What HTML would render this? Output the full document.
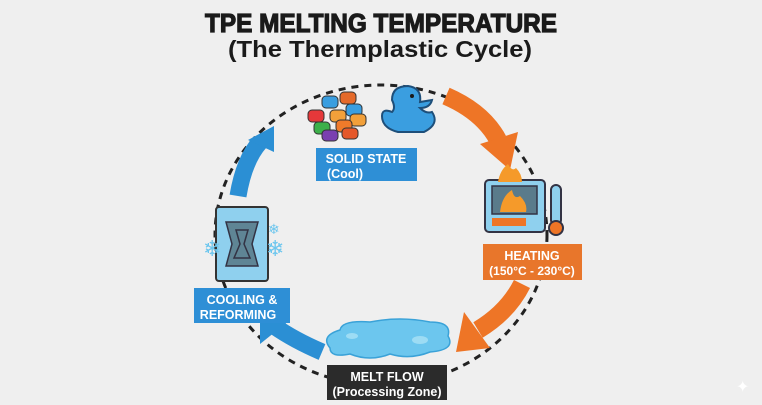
<!DOCTYPE html>
<html><head><style>
body{margin:0;width:762px;height:400px;background:#efefef;overflow:hidden;font-family:"Liberation Sans","DejaVu Sans",sans-serif}
</style></head><body>
<svg width="762" height="400" viewBox="0 0 762 400" xmlns="http://www.w3.org/2000/svg">
<rect width="762" height="400" fill="#efefef"/>
<text x="381" y="32" text-anchor="middle" font-family="Liberation Sans, sans-serif" font-weight="900" font-size="26" textLength="352" lengthAdjust="spacingAndGlyphs" fill="#1a1a1a" stroke="#1a1a1a" stroke-width="1.2">TPE MELTING TEMPERATURE</text>
<text x="380" y="57" text-anchor="middle" font-family="Liberation Sans, sans-serif" font-weight="bold" font-size="23" textLength="304" lengthAdjust="spacingAndGlyphs" fill="#1a1a1a">(The Thermplastic Cycle)</text>
<ellipse cx="381" cy="235" rx="166" ry="150" fill="none" stroke="#222" stroke-width="3" stroke-dasharray="7 6"/>
<!-- arrows -->
<path d="M446 96 Q483 112 498 140" fill="none" stroke="#ee7526" stroke-width="18"/>
<polygon points="480,144 518,132 510,170" fill="#ee7526"/>
<path d="M522 284 Q508 312 478 330" fill="none" stroke="#ee7526" stroke-width="18"/>
<polygon points="464,312 490,348 456,352" fill="#ee7526"/>
<path d="M322 352 Q294 340 274 326" fill="none" stroke="#2b8fd4" stroke-width="17"/>
<polygon points="260,344 260,312 290,320" fill="#2b8fd4"/>
<path d="M238 196 Q244 160 260 142" fill="none" stroke="#2b8fd4" stroke-width="17"/>
<polygon points="248,140 274,126 274,152" fill="#2b8fd4"/>
<!-- pellets -->
<g stroke="#333" stroke-width="1">
<rect x="322" y="96" width="16" height="12" rx="4" fill="#3a9ee0"/>
<rect x="340" y="92" width="16" height="12" rx="4" fill="#e56a2a"/>
<rect x="346" y="104" width="16" height="12" rx="4" fill="#3a9ee0"/>
<rect x="308" y="110" width="16" height="12" rx="4" fill="#e5383a"/>
<rect x="330" y="110" width="16" height="12" rx="4" fill="#f2a03a"/>
<rect x="350" y="114" width="16" height="12" rx="4" fill="#f2a03a"/>
<rect x="314" y="122" width="16" height="12" rx="4" fill="#3cb04a"/>
<rect x="336" y="120" width="16" height="12" rx="4" fill="#ef7a2a"/>
<rect x="322" y="130" width="16" height="11" rx="4" fill="#7a3fb0"/>
<rect x="342" y="128" width="16" height="11" rx="4" fill="#e5582a"/>
</g>
<!-- duck -->
<path d="M392 100 Q392 86 408 86 Q422 88 420 102 L432 100 Q430 108 420 108 Q426 114 432 112 Q440 124 424 132 L398 132 Q382 128 382 116 Q382 108 392 112 Q396 108 392 100 Z" fill="#3a9ee0" stroke="#1e4f7a" stroke-width="2"/>
<circle cx="412" cy="96" r="2" fill="#1a1a1a"/>
<!-- labels -->
<rect x="316" y="148" width="101" height="33" fill="#2e8fd6"/>
<text x="366" y="163" text-anchor="middle" font-weight="bold" font-size="12.5" fill="#fff">SOLID STATE</text>
<text x="345" y="178" text-anchor="middle" font-weight="bold" font-size="12.5" fill="#fff">(Cool)</text>
<!-- oven -->
<rect x="485" y="180" width="60" height="52" rx="4" fill="#8fd0ee" stroke="#334" stroke-width="2"/>
<rect x="492" y="186" width="45" height="28" fill="#5a7b8b" stroke="#334" stroke-width="1.5"/>
<path d="M500 212 Q502 196 512 190 Q514 200 520 196 Q528 204 526 212 Z" fill="#f59a2a"/>
<path d="M498 182 Q500 170 508 164 Q512 172 516 168 Q522 174 522 182 Z" fill="#f59a2a"/>
<rect x="492" y="218" width="34" height="8" fill="#ee7526"/>
<rect x="551" y="185" width="10" height="40" rx="5" fill="#8fd0ee" stroke="#334" stroke-width="2"/>
<circle cx="556" cy="228" r="7" fill="#ee7526" stroke="#334" stroke-width="2"/>
<rect x="483" y="244" width="99" height="36" fill="#e8762b"/>
<text x="532" y="260" text-anchor="middle" font-weight="bold" font-size="12.5" fill="#fff">HEATING</text>
<text x="532" y="275" text-anchor="middle" font-weight="bold" font-size="12" fill="#fff">(150°C - 230°C)</text>
<!-- mold -->
<rect x="216" y="207" width="52" height="74" rx="3" fill="#8fd0ee" stroke="#333" stroke-width="2"/>
<path d="M226 222 L258 222 L252 244 L258 266 L226 266 L232 244 Z" fill="#5f8595" stroke="#334" stroke-width="1.5"/>
<path d="M236 230 L248 230 L244 244 L250 258 L234 258 L240 244 Z" fill="none" stroke="#334" stroke-width="1.5"/>
<text x="203" y="256" font-size="22" fill="#6cc6ee">❄</text>
<text x="266" y="256" font-size="22" fill="#6cc6ee">❄</text>
<text x="268" y="234" font-size="14" fill="#6cc6ee">❄</text>
<rect x="194" y="288" width="96" height="35" fill="#2e8fd6"/>
<text x="242" y="304" text-anchor="middle" font-weight="bold" font-size="12.5" fill="#fff">COOLING &amp;</text>
<text x="238" y="319" text-anchor="middle" font-weight="bold" font-size="12.5" fill="#fff">REFORMING</text>
<!-- puddle -->
<path d="M330 348 Q320 336 340 330 Q342 320 370 322 Q400 316 430 322 Q452 322 448 336 Q456 350 430 352 Q410 360 390 354 Q370 362 350 354 Q330 358 330 348 Z" fill="#6cc6ee" stroke="#3aa2d8" stroke-width="1.5"/>
<ellipse cx="420" cy="340" rx="8" ry="4" fill="#9ddcf4"/>
<ellipse cx="352" cy="336" rx="6" ry="3" fill="#9ddcf4"/>
<rect x="327" y="365" width="120" height="35" fill="#2b2b2b"/>
<text x="387" y="381" text-anchor="middle" font-weight="bold" font-size="12.5" fill="#fff">MELT FLOW</text>
<text x="387" y="396" text-anchor="middle" font-weight="bold" font-size="12.5" fill="#fff">(Processing Zone)</text>
<text x="736" y="392" font-size="16" fill="#fff">✦</text>
</svg>
</body></html>
